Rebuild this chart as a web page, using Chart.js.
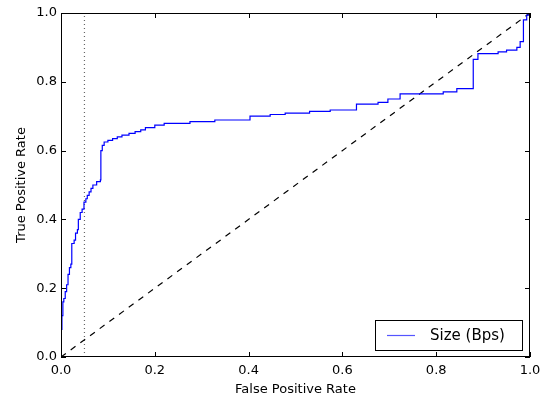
<!DOCTYPE html>
<html>
<head>
<meta charset="UTF-8">
<title>ROC</title>
<script src="https://cdn.jsdelivr.net/npm/chart.js@4.4.0/dist/chart.umd.min.js"></script>
<style>
  html, body { margin: 0; padding: 0; background: #fff; }
  #wrap { width: 552px; height: 397px; }
</style>
</head>
<body>
<div id="wrap"><canvas id="roc"></canvas></div>
<script>
// ROC curve (point = where tpr has risen to at that fpr)
const fpr = [0, 0, 0.002, 0.004, 0.006, 0.009, 0.012, 0.015, 0.018, 0.021, 0.023, 0.028, 0.031, 0.035,
             0.037, 0.041, 0.045, 0.049, 0.053, 0.056, 0.06, 0.064, 0.068, 0.076, 0.084, 0.085, 0.088, 0.092,
             0.1, 0.11, 0.12, 0.13, 0.145, 0.158, 0.17, 0.18, 0.2, 0.22, 0.275, 0.328, 0.403, 0.446, 0.478,
             0.53, 0.574, 0.63, 0.676, 0.697, 0.723, 0.815, 0.844, 0.879, 0.889, 0.932, 0.95, 0.972, 0.979,
             0.986, 0.993, 1.0];
const tpr = [0, 0.08, 0.12, 0.16, 0.17, 0.19, 0.21, 0.24, 0.26, 0.27, 0.33, 0.34, 0.36, 0.37,
             0.40, 0.42, 0.43, 0.45, 0.46, 0.47, 0.48, 0.49, 0.50, 0.51, 0.515, 0.60, 0.615, 0.625,
             0.63, 0.635, 0.64, 0.645, 0.65, 0.655, 0.66, 0.667, 0.674, 0.679, 0.684, 0.689, 0.700, 0.705, 0.709,
             0.714, 0.718, 0.735, 0.740, 0.75, 0.765, 0.771, 0.78, 0.865, 0.882, 0.887, 0.892, 0.9, 0.917,
             0.98, 0.994, 1.0];
const chanceX = [0, 1];
const chanceY = [0, 1];
const cutX = [0.05, 0.05];
const cutY = [0, 1];
const tickVals = [0, 0.2, 0.4, 0.6, 0.8, 1.0];
const legendLabel = 'Size (Bps)';

const FONT = 'DejaVu Sans';

function pts(xs, ys) {
  return xs.map((x, i) => ({ x: x, y: ys[i] }));
}

// matplotlib-ish frame: box + inward ticks on all sides + legend box
const framePlugin = {
  id: 'frame',
  afterDraw(chart) {
    const ctx = chart.ctx;
    const a = chart.chartArea;
    const xs = chart.scales.x, ys = chart.scales.y;
    ctx.save();
    ctx.strokeStyle = '#000';
    ctx.lineWidth = 1;
    ctx.strokeRect(a.left + 0.5, a.top + 0.5, a.right - a.left - 1, a.bottom - a.top - 1);
    ctx.beginPath();
    tickVals.forEach(v => {
      const px = Math.round(xs.getPixelForValue(v)) + 0.5;
      ctx.moveTo(px, a.bottom); ctx.lineTo(px, a.bottom - 5);
      ctx.moveTo(px, a.top); ctx.lineTo(px, a.top + 5);
      const py = Math.round(ys.getPixelForValue(v)) + 0.5;
      ctx.moveTo(a.left, py); ctx.lineTo(a.left + 5, py);
      ctx.moveTo(a.right, py); ctx.lineTo(a.right - 5, py);
    });
    ctx.stroke();

    // legend
    const lw = 147, lh = 30;
    const lx = a.right - 8 - lw, ly = a.bottom - 7 - lh;
    ctx.fillStyle = '#fff';
    ctx.fillRect(lx, ly, lw, lh);
    ctx.strokeRect(lx + 0.5, ly + 0.5, lw, lh);
    ctx.strokeStyle = '#5555ff';
    ctx.lineWidth = 1.2;
    ctx.beginPath();
    ctx.moveTo(lx + 12, ly + lh / 2 + 0.5);
    ctx.lineTo(lx + 40, ly + lh / 2 + 0.5);
    ctx.stroke();
    ctx.fillStyle = '#000';
    ctx.font = '15px "' + FONT + '"';
    ctx.textBaseline = 'middle';
    ctx.fillText(legendLabel, lx + 55, ly + lh / 2 + 1);
    ctx.restore();
  }
};

new Chart(document.getElementById('roc'), {
  type: 'line',
  data: {
    datasets: [
      {
        label: legendLabel,
        data: pts(fpr, tpr),
        borderColor: '#0000ff',
        borderWidth: 1.2,
        stepped: 'before',
        pointRadius: 0,
        fill: false
      },
      {
        label: 'chance',
        data: pts(chanceX, chanceY),
        borderColor: '#000',
        borderWidth: 1.2,
        borderDash: [6, 6],
        pointRadius: 0
      },
      {
        label: 'cut',
        data: pts(cutX, cutY),
        borderColor: '#666',
        borderWidth: 1.2,
        borderDash: [1, 3],
        pointRadius: 0
      }
    ]
  },
  options: {
    responsive: true,
    maintainAspectRatio: false,
    animation: false,
    layout: { padding: { top: 13, right: 22, left: 0, bottom: 0 } },
    plugins: { legend: { display: false }, tooltip: { enabled: false } },
    scales: {
      x: {
        type: 'linear',
        min: 0, max: 1,
        afterFit(s) { s.height = 40; },
        afterBuildTicks(s) { s.ticks = tickVals.map(v => ({ value: v })); },
        grid: { display: false, drawTicks: false },
        border: { display: false },
        ticks: {
          padding: 6,
          color: '#000',
          font: { family: FONT, size: 13 },
          callback: v => v.toFixed(1)
        },
        title: {
          display: true,
          text: 'False Positive Rate',
          color: '#000',
          font: { family: FONT, size: 13 },
          padding: { top: 0, bottom: 0 }
        }
      },
      y: {
        type: 'linear',
        min: 0, max: 1,
        afterFit(s) { s.width = 61; },
        afterBuildTicks(s) { s.ticks = tickVals.map(v => ({ value: v })); },
        grid: { display: false, drawTicks: false },
        border: { display: false },
        ticks: {
          padding: 4,
          color: '#000',
          font: { family: FONT, size: 13 },
          callback: v => v.toFixed(1)
        },
        title: {
          display: true,
          text: 'True Positive Rate',
          color: '#000',
          font: { family: FONT, size: 13 },
          padding: { top: 14, bottom: 0 }
        }
      }
    }
  },
  plugins: [framePlugin]
});
</script>
</body>
</html>
